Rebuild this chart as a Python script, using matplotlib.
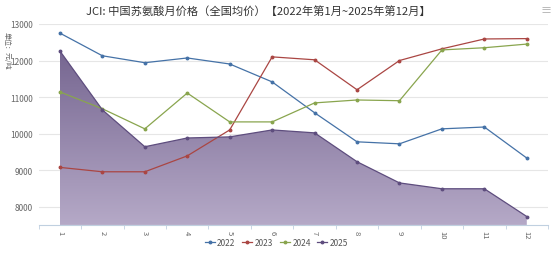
import numpy as np
import matplotlib.pyplot as plt
from matplotlib.patches import Polygon
from matplotlib.colors import LinearSegmentedColormap

plt.rcParams['font.family'] = ['Noto Sans CJK SC', 'DejaVu Sans']

# monthly price data
months = list(range(1, 13))
month_labels = [str(m) for m in months]
p2022 = [12750, 12130, 11940, 12070, 11905, 11415, 10570, 9775, 9720, 10130, 10180, 9330]
p2023 = [9075, 8955, 8955, 9390, 10100, 12100, 12020, 11200, 12000, 12320, 12590, 12600]
p2024 = [11140, 10680, 10130, 11110, 10320, 10320, 10840, 10920, 10900, 12290, 12350, 12450]
p2025 = [12260, 10650, 9640, 9880, 9910, 10100, 10020, 9230, 8650, 8490, 8490, 7730]

colors = {'2022': '#4572A7', '2023': '#AA4643', '2024': '#89A54E', '2025': '#5e4d7e'}

fig = plt.figure(figsize=(5.53, 2.55), dpi=100)
ax = fig.add_axes([0.070, 0.114, 0.921, 0.788])

ymin, ymax = 7500, 13000
ax.set_xlim(0.5, 12.5)
ax.set_ylim(ymin, ymax)

# gradient area for 2025
grad = np.linspace(0, 1, 256).reshape(-1, 1)
cmap = LinearSegmentedColormap.from_list('g', ['#b5a9c7', '#74648f'])
img = ax.imshow(grad, cmap=cmap, extent=[1, 12, ymin, 12400], origin='lower',
                aspect='auto', zorder=1)
verts = [(1, ymin)] + list(zip(months, p2025)) + [(12, ymin)]
poly = Polygon(verts, closed=True, facecolor='none', edgecolor='none', transform=ax.transData)
ax.add_patch(poly)
img.set_clip_path(poly)

for name, vals in [('2022', p2022), ('2023', p2023), ('2024', p2024), ('2025', p2025)]:
    ax.plot(months, vals, color=colors[name], lw=0.9, marker='o', ms=1.8,
            label=name, zorder=3)

ax.set_yticks(range(8000, 13001, 1000))
ax.tick_params(axis='y', length=0, labelsize=6, labelcolor='#666666', pad=4)
ax.grid(axis='y', color='#e6e6e6', lw=0.8, zorder=0)
ax.set_axisbelow(True)

ax.set_xticks(months)
ax.set_xticklabels(month_labels, rotation=-90, fontsize=5.5, color='#666666')
ax.set_xticks(np.arange(0.5, 12.6, 1), minor=True)
ax.tick_params(axis='x', which='major', length=0, pad=4)
ax.tick_params(axis='x', which='minor', length=3, color='#c0d0e0')

for s in ['top', 'right', 'left']:
    ax.spines[s].set_visible(False)
ax.spines['bottom'].set_color('#c0d0e0')

fig.text(0.468, 0.955, 'JCI: 中国苏氨酸月价格（全国均价）【2022年第1月~2025年第12月】',
         ha='center', va='center', fontsize=8.1, color='#333333')
fig.text(0.012, 0.80, '单位：元/吨', rotation=-90, ha='center', va='center',
         fontsize=5, color='#666666')
fig.text(0.988, 0.955, '≡', ha='center', va='center', fontsize=8, color='#aaaaaa')

leg = fig.legend(loc='center', bbox_to_anchor=(0.5, 0.045), ncol=4, frameon=False,
                 fontsize=6, handlelength=1.2, handletextpad=0.3, columnspacing=0.8)
for t in leg.get_texts():
    t.set_color('#555555')

fig.savefig('out.png', dpi=100)
